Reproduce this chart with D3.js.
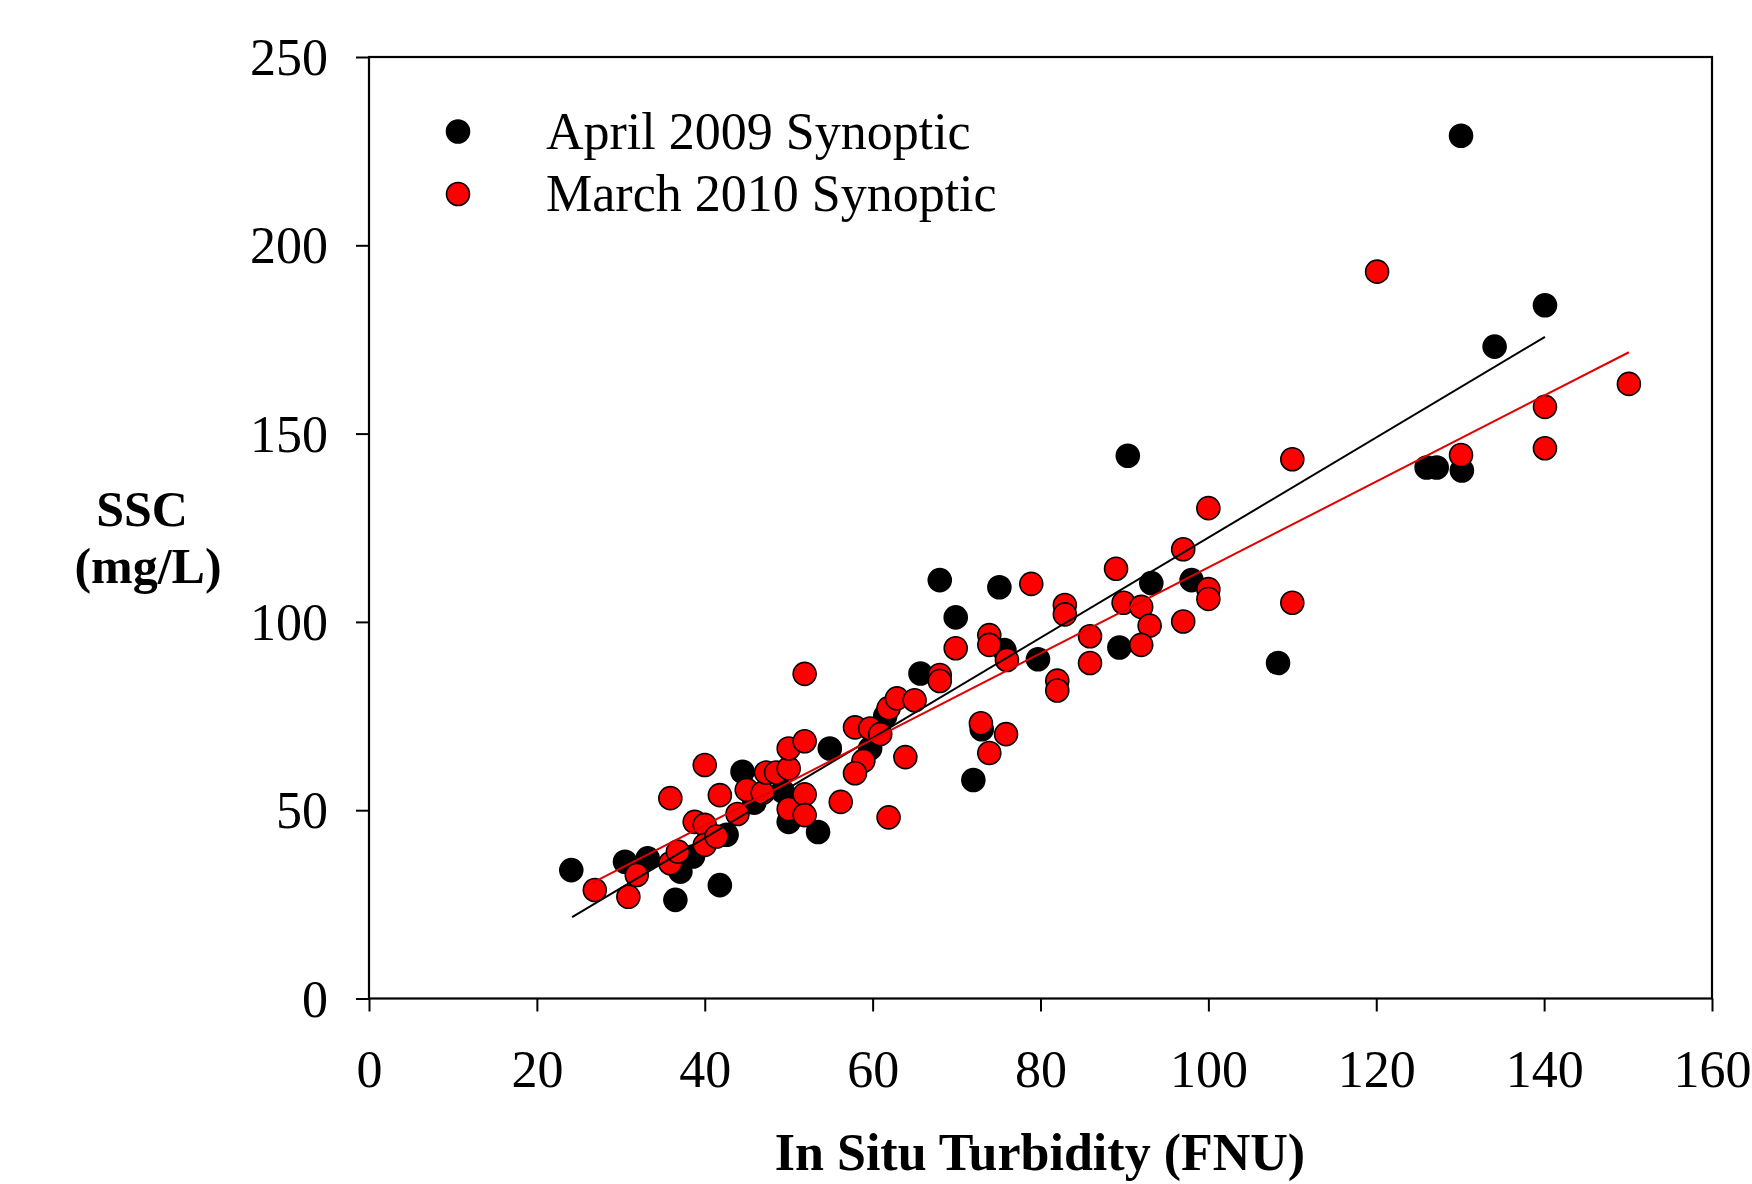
<!DOCTYPE html>
<html>
<head>
<meta charset="utf-8">
<script src="https://cdn.jsdelivr.net/npm/d3@7"></script>
<style>
  html, body { margin: 0; padding: 0; background: #fff; }
  svg { display: block; }
  text { font-family: "Liberation Serif", "Times New Roman", serif; fill: #000; }
</style>
</head>
<body>
<svg id="chart" width="1752" height="1184"></svg>
<script>
// ---- Data ----
const seriesNames = ["April 2009 Synoptic", "March 2010 Synoptic"];
const seriesColors = ["#000000", "#ff0000"];

// April 2009 Synoptic: [turbidity FNU, SSC mg/L]
const april2009 = [
  [24.1,34.1],[30.5,36.3],[33.2,37.2],[36.5,26.2],[37.1,33.7],[38.6,37.7],
  [41.8,30.1],[42.6,43.5],[44.5,60.2],[45.9,52.0],[49.3,55.0],[50.0,46.9],
  [53.5,44.2],[54.9,66.4],[59.7,66.4],[61.5,75.0],[65.7,86.3],[68.0,111.1],
  [69.9,101.2],[72.0,58.0],[73.0,71.5],[75.1,109.2],[75.7,92.5],[79.7,90.1],
  [89.4,93.2],[90.4,144.1],[93.2,110.3],[98.0,111.1],[108.3,89.1],
  [126.0,141.0],[127.2,141.0],[130.2,140.2],[130.1,229.1],[134.1,173.1],[140.1,184.1]
];

// March 2010 Synoptic: [turbidity FNU, SSC mg/L]
const march2010 = [
  [26.9,28.8],[30.9,27.0],[31.9,32.8],[35.9,35.9],[36.8,39.0],[35.9,53.2],
  [38.8,46.9],[40.0,46.1],[40.0,40.8],[41.4,43.0],[40.0,62.0],[41.8,54.0],
  [43.9,49.0],[45.0,55.4],[46.9,54.6],[47.3,60.0],[48.5,60.0],[50.0,61.1],
  [50.0,66.4],[51.9,68.3],[50.0,50.3],[51.9,54.2],[51.9,48.7],[51.9,86.2],
  [56.2,52.2],[57.9,72.0],[58.9,63.1],[57.9,59.8],[59.7,71.7],[60.9,70.2],
  [61.9,77.1],[62.9,79.7],[65.0,79.2],[63.9,64.1],[61.9,48.1],[68.0,85.9],
  [68.0,84.3],[69.9,93.0],[72.9,73.1],[73.9,96.5],[73.9,93.9],[73.9,65.2],
  [76.0,89.9],[75.9,70.2],[78.9,110.1],[82.0,84.4],[82.0,81.8],[82.9,104.5],
  [82.9,102.0],[85.9,96.2],[85.9,89.1],[89.0,114.1],[89.9,105.1],[92.0,104.0],
  [93.0,99.0],[92.0,93.9],[97.0,119.3],[97.0,100.1],[100.0,130.2],[100.0,108.7],
  [100.0,106.1],[110.0,143.2],[110.0,105.1],[120.1,193.0],[130.1,144.3],
  [140.1,157.1],[140.1,146.1],[150.1,163.2]
];

// Regression line end points: [[x0,y0],[x1,y1]]
const april2009Fit = [[24.2,21.6],[140.1,175.7]];
const march2010Fit = [[26.6,30.7],[150.1,171.6]];

const xTicks = [0,20,40,60,80,100,120,140,160];
const yTicks = [0,50,100,150,200,250];
const xTitle = "In Situ Turbidity (FNU)";
const yTitleLines = ["SSC", "(mg/L)"];

// ---- Layout ----
const svg = d3.select("#chart");
const plotLeft = 369, plotRight = 1712, plotTop = 57, plotBottom = 998.5;

const x = d3.scaleLinear().domain([0,160]).range([plotLeft, plotRight]);
const y = d3.scaleLinear().domain([0,250]).range([plotBottom, plotTop]);

const FS = 52;

// X axis
const gx = svg.append("g")
  .attr("transform", `translate(0,${plotBottom})`)
  .call(d3.axisBottom(x).tickValues(xTicks).tickSize(13).tickFormat(d3.format("d")));
gx.select(".domain").remove();
gx.selectAll(".tick line").attr("stroke","#000").attr("stroke-width",2);
gx.selectAll(".tick text")
  .attr("y", 88).attr("dy", 0)
  .style("font-family", '"Liberation Serif", serif')
  .style("font-size", FS + "px").attr("fill","#000");

// Y axis
const gy = svg.append("g")
  .attr("transform", `translate(${plotLeft},0)`)
  .call(d3.axisLeft(y).tickValues(yTicks).tickSize(13).tickFormat(d3.format("d")));
gy.select(".domain").remove();
gy.selectAll(".tick line").attr("stroke","#000").attr("stroke-width",2);
gy.selectAll(".tick text")
  .attr("x", -41).attr("dy", "0.34em")
  .style("font-family", '"Liberation Serif", serif')
  .style("font-size", FS + "px").attr("fill","#000");

// Frame
svg.append("rect")
  .attr("x", x(0)).attr("y", y(250))
  .attr("width", x(160) - x(0)).attr("height", y(0) - y(250))
  .attr("fill", "none").attr("stroke", "#000").attr("stroke-width", 2.2);

// Points
const R = 11.5;
function drawPoints(data, color) {
  svg.append("g").selectAll("circle").data(data).join("circle")
    .attr("cx", d => x(d[0])).attr("cy", d => y(d[1])).attr("r", R)
    .attr("fill", color).attr("stroke", "#000").attr("stroke-width", 1.6);
}
drawPoints(april2009, seriesColors[0]);
drawPoints(march2010, seriesColors[1]);

// Fit lines
const line = d3.line().x(d => x(d[0])).y(d => y(d[1]));
svg.append("path").datum(april2009Fit).attr("d", line)
  .attr("fill","none").attr("stroke", seriesColors[0]).attr("stroke-width", 2);
svg.append("path").datum(march2010Fit).attr("d", line)
  .attr("fill","none").attr("stroke", "#e00000").attr("stroke-width", 2);

// Legend
const legend = svg.append("g");
const legendY = [131.5, 194];
seriesNames.forEach((name, i) => {
  legend.append("circle").attr("cx", 458).attr("cy", legendY[i]).attr("r", R)
    .attr("fill", seriesColors[i]).attr("stroke", "#000").attr("stroke-width", 1.6);
  legend.append("text").attr("x", 546).attr("y", legendY[i] + 17)
    .style("font-size", FS + "px").text(name);
});

// Axis titles
svg.append("text").attr("x", 1040).attr("y", 1170).attr("text-anchor","middle")
  .style("font-size", FS + "px").style("font-weight","bold").text(xTitle);
svg.append("text").attr("x", 142).attr("y", 526).attr("text-anchor","middle")
  .style("font-size", "50px").style("font-weight","bold").text(yTitleLines[0]);
svg.append("text").attr("x", 148).attr("y", 583).attr("text-anchor","middle")
  .style("font-size", "50px").style("font-weight","bold").text(yTitleLines[1]);
</script>
</body>
</html>
